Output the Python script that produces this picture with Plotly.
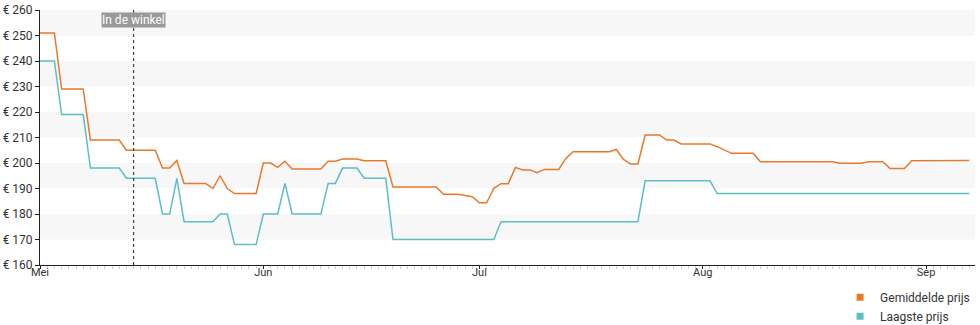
import plotly.graph_objects as go

# ---- data ----
gem_datums = ["2024-05-01", "2024-05-03", "2024-05-04", "2024-05-07", "2024-05-08", "2024-05-12",
              "2024-05-13", "2024-05-17", "2024-05-18", "2024-05-19", "2024-05-20", "2024-05-21",
              "2024-05-24", "2024-05-25", "2024-05-26", "2024-05-27", "2024-05-28", "2024-05-31",
              "2024-06-01", "2024-06-02", "2024-06-03", "2024-06-04", "2024-06-05", "2024-06-09",
              "2024-06-10", "2024-06-11", "2024-06-12", "2024-06-14", "2024-06-15", "2024-06-18",
              "2024-06-19", "2024-06-25", "2024-06-26", "2024-06-28", "2024-06-30", "2024-07-01",
              "2024-07-02", "2024-07-03", "2024-07-04", "2024-07-05", "2024-07-06", "2024-07-07",
              "2024-07-08", "2024-07-09", "2024-07-10", "2024-07-12", "2024-07-13", "2024-07-14",
              "2024-07-19", "2024-07-20", "2024-07-21", "2024-07-22", "2024-07-23", "2024-07-24",
              "2024-07-26", "2024-07-27", "2024-07-28", "2024-07-29", "2024-08-02", "2024-08-03",
              "2024-08-05", "2024-08-08", "2024-08-09", "2024-08-19", "2024-08-20", "2024-08-23",
              "2024-08-24", "2024-08-26", "2024-08-27", "2024-08-29", "2024-08-30", "2024-09-07"]
gem_prijs = [251, 251, 229, 229, 209, 209,
             205, 205, 198, 198, 201, 192,
             192, 190, 195, 190, 188, 188,
             200, 200, 198.3, 200.7, 197.6, 197.6,
             200.7, 200.7, 201.6, 201.6, 200.9, 200.9,
             190.6, 190.6, 187.7, 187.7, 186.8, 184.4,
             184.4, 190.1, 191.9, 191.9, 198.3, 197.3,
             197.3, 196.2, 197.5, 197.5, 201.8, 204.4,
             204.4, 205.3, 201.4, 199.6, 199.6, 211,
             211, 209, 209, 207.5, 207.5, 206.4,
             203.8, 203.8, 200.5, 200.5, 199.9, 199.9,
             200.5, 200.5, 197.8, 197.8, 200.9, 201.0]

laag_datums = ["2024-05-01", "2024-05-03", "2024-05-04", "2024-05-07", "2024-05-08", "2024-05-12",
               "2024-05-13", "2024-05-17", "2024-05-18", "2024-05-19", "2024-05-20", "2024-05-21",
               "2024-05-25", "2024-05-26", "2024-05-27", "2024-05-28", "2024-05-31", "2024-06-01",
               "2024-06-03", "2024-06-04", "2024-06-05", "2024-06-09", "2024-06-10", "2024-06-11",
               "2024-06-12", "2024-06-14", "2024-06-15", "2024-06-18", "2024-06-19", "2024-07-03",
               "2024-07-04", "2024-07-23", "2024-07-24", "2024-08-02", "2024-08-03", "2024-09-07"]
laag_prijs = [240, 240, 219, 219, 198, 198,
              194, 194, 180, 180, 194, 177,
              177, 180, 180, 168, 168, 180,
              180, 192, 180, 180, 192, 192,
              198, 198, 194, 194, 170, 170,
              177, 177, 193, 193, 188, 188]

maand_ticks = ["2024-05-01", "2024-06-01", "2024-07-01", "2024-08-01", "2024-09-01"]
maand_labels = ["Mei", "Jun", "Jul", "Aug", "Sep"]
y_ticks = [160, 170, 180, 190, 200, 210, 220, 230, 240, 250, 260]
y_labels = ["€ 160", "€ 170", "€ 180", "€ 190", "€ 200", "€ 210",
            "€ 220", "€ 230", "€ 240", "€ 250", "€ 260"]

winkel_datum = "2024-05-14"
winkel_label = "In de winkel"

series_namen = ["Gemiddelde prijs", "Laagste prijs"]
kleur_gem = "#e8792b"
kleur_laag = "#5bbfc6"

# ---- figure ----
fig = go.Figure()

fig.add_trace(go.Scatter(x=gem_datums, y=gem_prijs, mode="lines",
                         line=dict(color=kleur_gem, width=1.5), showlegend=False,
                         name=series_namen[0]))
fig.add_trace(go.Scatter(x=laag_datums, y=laag_prijs, mode="lines",
                         line=dict(color=kleur_laag, width=1.5), showlegend=False,
                         name=series_namen[1]))
# legend entries with square markers
fig.add_trace(go.Scatter(x=[None], y=[None], mode="markers", name=series_namen[0],
                         marker=dict(symbol="square", size=7, color=kleur_gem)))
fig.add_trace(go.Scatter(x=[None], y=[None], mode="markers", name=series_namen[1],
                         marker=dict(symbol="square", size=7, color=kleur_laag)))

# alternating background bands
shapes = []
for lo in [170, 190, 210, 230, 250]:
    shapes.append(dict(type="rect", xref="paper", yref="y", x0=0, x1=1, y0=lo, y1=lo + 10,
                       fillcolor="#f7f7f7", line=dict(width=0), layer="below"))
shapes.append(dict(type="line", xref="x", yref="paper", x0=winkel_datum, x1=winkel_datum,
                   y0=0, y1=1, line=dict(color="#222", width=1, dash="dot")))

fig.update_layout(
    width=980, height=325,
    margin=dict(l=40, r=5, t=10, b=60, autoexpand=False),
    plot_bgcolor="white", paper_bgcolor="white",
    font=dict(family="Roboto", size=12, color="#333"),
    shapes=shapes,
    annotations=[dict(x=winkel_datum, y=0.96, xref="x", yref="paper", text=winkel_label,
                      showarrow=False, font=dict(color="white", size=12, family="Roboto"),
                      bgcolor="#999999", borderpad=0, xanchor="center", yanchor="middle")],
    legend=dict(x=0.995, xanchor="right", xref="container", y=0.13, yanchor="top", yref="container",
                bgcolor="rgba(0,0,0,0)",
                font=dict(size=12, color="#333"), itemwidth=30, tracegroupgap=0),
    xaxis=dict(type="date", range=["2024-05-01", "2024-09-07 19:00"], automargin=False,
               tickvals=maand_ticks, ticktext=maand_labels,
               showgrid=False, zeroline=False, showline=True, linecolor="#222", linewidth=1,
               ticks="outside", ticklen=3, tickcolor="#222", tickfont=dict(size=11, color="#333"),
               ticklabelstandoff=-6,
               minor=dict(dtick=86400000, ticks="outside", ticklen=3, tickcolor="#d0d0d0", showgrid=False)),
    yaxis=dict(range=[160, 260], tickvals=y_ticks, ticktext=y_labels, automargin=False,
               showgrid=False, zeroline=False, showline=True, linecolor="#222", linewidth=1,
               ticks="outside", ticklen=4, tickcolor="#222", tickfont=dict(size=12, color="#333")),
)

fig.write_html("out.html")
